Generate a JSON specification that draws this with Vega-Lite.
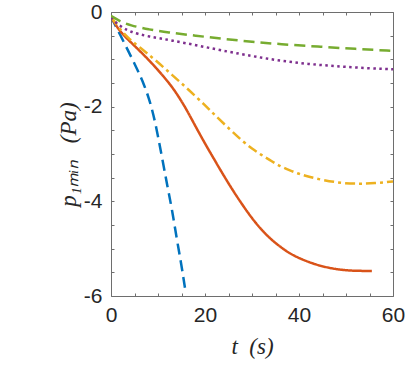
{
  "$schema": "https://vega.github.io/schema/vega-lite/v6.json",
  "width": 282,
  "height": 284,
  "autosize": "none",
  "padding": {"left": 111, "top": 12, "right": 14, "bottom": 74},
  "background": "white",
  "config": {
    "view": {"stroke": "#6e6e6e", "strokeWidth": 1},
    "axis": {
      "domain": false,
      "grid": false,
      "ticks": true,
      "tickColor": "#6e6e6e",
      "tickSize": 3,
      "offset": -3,
      "tickWidth": 1,
      "labelFont": "Liberation Sans",
      "labelFontSize": 21,
      "labelColor": "#262626",
      "labelOverlap": false,
      "labelFlush": false,
      "titleFont": "Liberation Serif",
      "titleFontSize": 23,
      "titleFontStyle": "italic",
      "titleFontWeight": "normal",
      "titleColor": "#262626"
    }
  },
  "data": {
    "values": [
      {"s": "a", "t": 0, "p": -0.1}, {"s": "a", "t": 1, "p": -0.3}, {"s": "a", "t": 2, "p": -0.49}, {"s": "a", "t": 3, "p": -0.69}, {"s": "a", "t": 4, "p": -0.89}, {"s": "a", "t": 5, "p": -1.09}, {"s": "a", "t": 6, "p": -1.3}, {"s": "a", "t": 7, "p": -1.53}, {"s": "a", "t": 8, "p": -1.8}, {"s": "a", "t": 9, "p": -2.15}, {"s": "a", "t": 10, "p": -2.62}, {"s": "a", "t": 11, "p": -3.15}, {"s": "a", "t": 12, "p": -3.68}, {"s": "a", "t": 13, "p": -4.18}, {"s": "a", "t": 14, "p": -4.8}, {"s": "a", "t": 15, "p": -5.35}, {"s": "a", "t": 15.8, "p": -5.87},
      {"s": "b", "t": 0, "p": -0.1}, {"s": "b", "t": 1.6, "p": -0.38}, {"s": "b", "t": 4, "p": -0.62}, {"s": "b", "t": 5.9, "p": -0.8}, {"s": "b", "t": 8, "p": -1.01}, {"s": "b", "t": 9.4, "p": -1.16}, {"s": "b", "t": 11, "p": -1.34}, {"s": "b", "t": 13, "p": -1.58}, {"s": "b", "t": 15, "p": -1.88}, {"s": "b", "t": 16.5, "p": -2.14}, {"s": "b", "t": 18, "p": -2.42}, {"s": "b", "t": 20, "p": -2.78}, {"s": "b", "t": 22, "p": -3.12}, {"s": "b", "t": 24, "p": -3.46}, {"s": "b", "t": 26, "p": -3.78}, {"s": "b", "t": 28, "p": -4.08}, {"s": "b", "t": 30, "p": -4.36}, {"s": "b", "t": 32, "p": -4.6}, {"s": "b", "t": 34, "p": -4.8}, {"s": "b", "t": 36, "p": -4.96}, {"s": "b", "t": 38, "p": -5.1}, {"s": "b", "t": 40, "p": -5.2}, {"s": "b", "t": 43, "p": -5.32}, {"s": "b", "t": 46, "p": -5.4}, {"s": "b", "t": 49, "p": -5.45}, {"s": "b", "t": 52, "p": -5.47}, {"s": "b", "t": 55.5, "p": -5.47},
      {"s": "c", "t": 0, "p": -0.1}, {"s": "c", "t": 2, "p": -0.38}, {"s": "c", "t": 4, "p": -0.58}, {"s": "c", "t": 5.9, "p": -0.73}, {"s": "c", "t": 9.4, "p": -1.01}, {"s": "c", "t": 13, "p": -1.33}, {"s": "c", "t": 16.5, "p": -1.64}, {"s": "c", "t": 20, "p": -1.97}, {"s": "c", "t": 22, "p": -2.17}, {"s": "c", "t": 25.4, "p": -2.49}, {"s": "c", "t": 28, "p": -2.73}, {"s": "c", "t": 30, "p": -2.89}, {"s": "c", "t": 32, "p": -3.02}, {"s": "c", "t": 34, "p": -3.14}, {"s": "c", "t": 36, "p": -3.26}, {"s": "c", "t": 38.1, "p": -3.35}, {"s": "c", "t": 40, "p": -3.42}, {"s": "c", "t": 42, "p": -3.48}, {"s": "c", "t": 45, "p": -3.55}, {"s": "c", "t": 49.3, "p": -3.62}, {"s": "c", "t": 53, "p": -3.63}, {"s": "c", "t": 56, "p": -3.62}, {"s": "c", "t": 60, "p": -3.58},
      {"s": "d", "t": 0, "p": -0.12}, {"s": "d", "t": 1, "p": -0.22}, {"s": "d", "t": 2, "p": -0.3}, {"s": "d", "t": 4, "p": -0.42}, {"s": "d", "t": 8, "p": -0.52}, {"s": "d", "t": 13, "p": -0.6}, {"s": "d", "t": 19, "p": -0.72}, {"s": "d", "t": 25, "p": -0.84}, {"s": "d", "t": 30, "p": -0.93}, {"s": "d", "t": 34, "p": -1.0}, {"s": "d", "t": 38, "p": -1.05}, {"s": "d", "t": 42, "p": -1.1}, {"s": "d", "t": 46, "p": -1.13}, {"s": "d", "t": 50, "p": -1.16}, {"s": "d", "t": 55, "p": -1.19}, {"s": "d", "t": 60, "p": -1.21},
      {"s": "e", "t": 0, "p": -0.08}, {"s": "e", "t": 1, "p": -0.14}, {"s": "e", "t": 2, "p": -0.2}, {"s": "e", "t": 4, "p": -0.28}, {"s": "e", "t": 8, "p": -0.37}, {"s": "e", "t": 12, "p": -0.43}, {"s": "e", "t": 18, "p": -0.5}, {"s": "e", "t": 24, "p": -0.57}, {"s": "e", "t": 30, "p": -0.63}, {"s": "e", "t": 36, "p": -0.68}, {"s": "e", "t": 44, "p": -0.73}, {"s": "e", "t": 52, "p": -0.78}, {"s": "e", "t": 60, "p": -0.82}
    ]
  },
  "resolve": {"axis": {"x": "independent", "y": "independent"}},
  "layer": [
    {
      "mark": {"type": "line", "strokeWidth": 2.5, "strokeCap": "butt", "interpolate": "basis", "clip": true},
      "encoding": {
        "x": {
          "field": "t", "type": "quantitative",
          "scale": {"domain": [0, 60], "nice": false, "zero": false},
          "axis": {
            "orient": "bottom",
            "title": "t\u00a0\u00a0(s)",
            "values": [0, 5, 10, 15, 20, 25, 30, 35, 40, 45, 50, 55, 60],
            "labelExpr": "datum.value % 20 == 0 ? '' + datum.value : ''",
            "labelPadding": 8,
            "titlePadding": 10
          }
        },
        "y": {
          "field": "p", "type": "quantitative",
          "scale": {"domain": [-6, 0], "nice": false, "zero": false},
          "axis": {
            "orient": "left",
            "title": "p₁ₘᵢₙ\u00a0\u00a0\u00a0(Pa)",
            "values": [-6, -5.5, -5, -4.5, -4, -3.5, -3, -2.5, -2, -1.5, -1, -0.5, 0],
            "labelExpr": "datum.value % 2 == 0 ? '' + datum.value : ''",
            "labelPadding": 9,
            "titlePadding": 3
          }
        },
        "detail": {"field": "s"},
        "color": {
          "field": "s", "type": "nominal", "legend": null,
          "scale": {"domain": ["a", "b", "c", "d", "e"], "range": ["#0072BD", "#D95319", "#EDB120", "#7E2F8E", "#77AC30"]}
        },
        "strokeDash": {
          "field": "s", "type": "nominal", "legend": null,
          "scale": {"domain": ["a", "b", "c", "d", "e"], "range": [[11, 6], [1, 0], [10, 4, 3, 4], [2.5, 3.5], [11, 6]]}
        }
      }
    },
    {
      "mark": {"type": "line", "opacity": 0},
      "encoding": {
        "x": {
          "field": "t", "type": "quantitative",
          "scale": {"domain": [0, 60], "nice": false, "zero": false},
          "axis": {"orient": "top", "title": null, "labels": false, "values": [0, 5, 10, 15, 20, 25, 30, 35, 40, 45, 50, 55, 60]}
        },
        "y": {
          "field": "p", "type": "quantitative",
          "scale": {"domain": [-6, 0], "nice": false, "zero": false},
          "axis": {"orient": "right", "title": null, "labels": false, "values": [-6, -5.5, -5, -4.5, -4, -3.5, -3, -2.5, -2, -1.5, -1, -0.5, 0]}
        },
        "detail": {"field": "s"}
      }
    }
  ]
}
